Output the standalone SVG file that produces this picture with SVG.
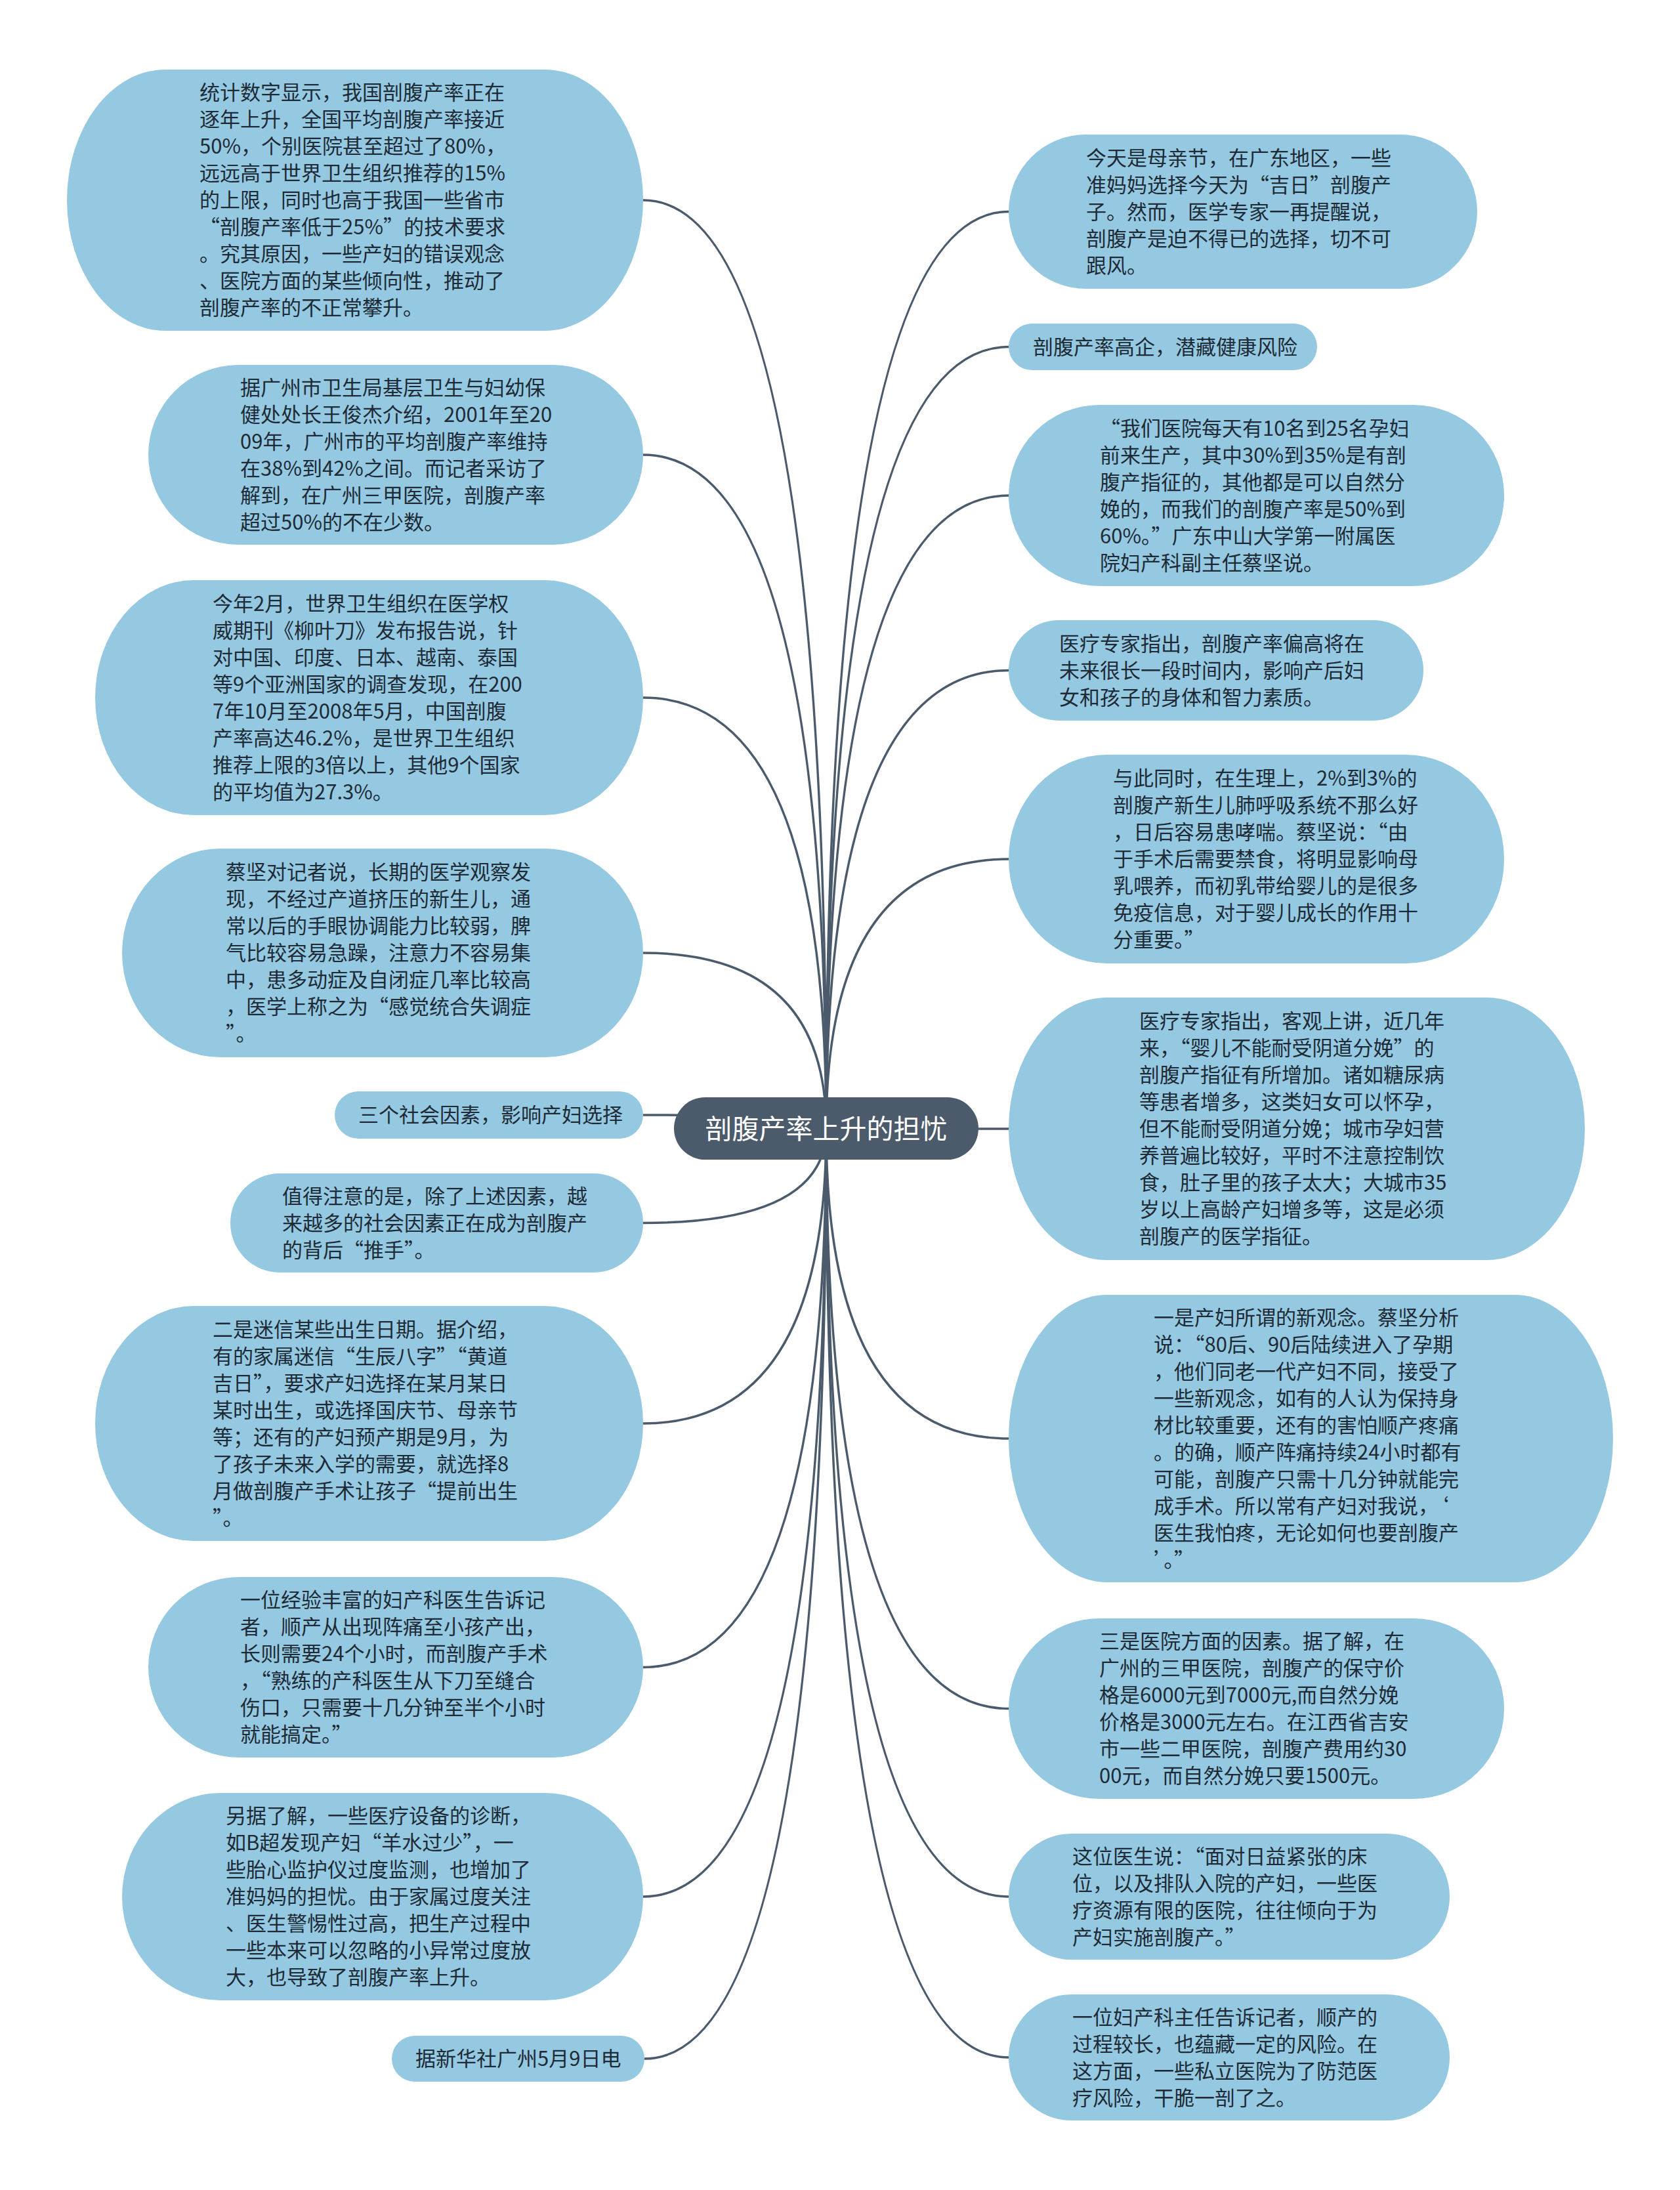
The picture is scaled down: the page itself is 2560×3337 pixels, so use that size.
<svg xmlns="http://www.w3.org/2000/svg" width="2560" height="3337" viewBox="0 0 2560 3337">
<style>
.bg{fill:#ffffff}
.node rect{fill:#94c9e1}
.t{font-family:"Noto Sans CJK SC","Noto Sans",sans-serif;font-size:31px;fill:#1e2a35}
.conn path{fill:none;stroke:#4b5b6b;stroke-width:3.5}
.center rect{fill:#4b5b6b}
.center text{font-family:"Noto Sans CJK SC","Noto Sans",sans-serif;font-size:41px;fill:#ffffff;text-anchor:middle}
</style>
<rect class="bg" x="0" y="0" width="2560" height="3337"/>
<g id="connectors" class="conn">
<path d="M1259 1720 Q1259 305 980 305"/>
<path d="M1259 1720 Q1259 693 980 693"/>
<path d="M1259 1720 Q1259 1063 980 1063"/>
<path d="M1259 1720 Q1259 1452 980 1452"/>
<path d="M1259 1720 Q1259 1699 980 1699"/>
<path d="M1259 1720 Q1259 1863.5 980 1863.5"/>
<path d="M1259 1720 Q1259 2169 980 2169"/>
<path d="M1259 1720 Q1259 2540.5 980 2540.5"/>
<path d="M1259 1720 Q1259 2890 980 2890"/>
<path d="M1259 1720 Q1259 3137 982 3137"/>
<path d="M1259 1720 Q1259 322.5 1537 322.5"/>
<path d="M1259 1720 Q1259 528.5 1537 528.5"/>
<path d="M1259 1720 Q1259 755 1537 755"/>
<path d="M1259 1720 Q1259 1021.5 1537 1021.5"/>
<path d="M1259 1720 Q1259 1309 1537 1309"/>
<path d="M1259 1720 Q1259 1720 1537 1720"/>
<path d="M1259 1720 Q1259 2192 1537 2192"/>
<path d="M1259 1720 Q1259 2603.5 1537 2603.5"/>
<path d="M1259 1720 Q1259 2890 1537 2890"/>
<path d="M1259 1720 Q1259 3135 1537 3135"/>
</g>

<g id="L1" class="node"><rect x="102" y="106" width="878" height="398" rx="150" ry="199"/>
<text class="t" x="304" y="152"><tspan x="304">统计数字显示，我国剖腹产率正在</tspan><tspan x="304" dy="41">逐年上升，全国平均剖腹产率接近</tspan><tspan x="304" dy="41">50%，个别医院甚至超过了80%，</tspan><tspan x="304" dy="41">远远高于世界卫生组织推荐的15%</tspan><tspan x="304" dy="41">的上限，同时也高于我国一些省市</tspan><tspan x="304" dy="41">“剖腹产率低于25%”的技术要求</tspan><tspan x="304" dy="41">。究其原因，一些产妇的错误观念</tspan><tspan x="304" dy="41">、医院方面的某些倾向性，推动了</tspan><tspan x="304" dy="41">剖腹产率的不正常攀升。</tspan></text></g>

<g id="L2" class="node"><rect x="226" y="556" width="754" height="274" rx="137" ry="137"/>
<text class="t" x="366" y="601.5"><tspan x="366">据广州市卫生局基层卫生与妇幼保</tspan><tspan x="366" dy="41">健处处长王俊杰介绍，2001年至20</tspan><tspan x="366" dy="41">09年，广州市的平均剖腹产率维持</tspan><tspan x="366" dy="41">在38%到42%之间。而记者采访了</tspan><tspan x="366" dy="41">解到，在广州三甲医院，剖腹产率</tspan><tspan x="366" dy="41">超过50%的不在少数。</tspan></text></g>

<g id="L3" class="node"><rect x="145" y="884" width="835" height="358" rx="150" ry="179"/>
<text class="t" x="324" y="930.5"><tspan x="324">今年2月，世界卫生组织在医学权</tspan><tspan x="324" dy="41">威期刊《柳叶刀》发布报告说，针</tspan><tspan x="324" dy="41">对中国、印度、日本、越南、泰国</tspan><tspan x="324" dy="41">等9个亚洲国家的调查发现，在200</tspan><tspan x="324" dy="41">7年10月至2008年5月，中国剖腹</tspan><tspan x="324" dy="41">产率高达46.2%，是世界卫生组织</tspan><tspan x="324" dy="41">推荐上限的3倍以上，其他9个国家</tspan><tspan x="324" dy="41">的平均值为27.3%。</tspan></text></g>

<g id="L4" class="node"><rect x="186" y="1293" width="794" height="318" rx="150" ry="159"/>
<text class="t" x="344" y="1340"><tspan x="344">蔡坚对记者说，长期的医学观察发</tspan><tspan x="344" dy="41">现，不经过产道挤压的新生儿，通</tspan><tspan x="344" dy="41">常以后的手眼协调能力比较弱，脾</tspan><tspan x="344" dy="41">气比较容易急躁，注意力不容易集</tspan><tspan x="344" dy="41">中，患多动症及自闭症几率比较高</tspan><tspan x="344" dy="41">，医学上称之为“感觉统合失调症</tspan><tspan x="344" dy="41">”。</tspan></text></g>

<g id="L5" class="node"><rect x="510" y="1663" width="470" height="72" rx="36" ry="36"/>
<text class="t" x="546" y="1710">三个社会因素，影响产妇选择</text></g>

<g id="L6" class="node"><rect x="351" y="1788" width="629" height="151" rx="75.5" ry="75.5"/>
<text class="t" x="430" y="1833.5"><tspan x="430">值得注意的是，除了上述因素，越</tspan><tspan x="430" dy="41">来越多的社会因素正在成为剖腹产</tspan><tspan x="430" dy="41">的背后“推手”。</tspan></text></g>

<g id="L7" class="node"><rect x="145" y="1990" width="835" height="358" rx="150" ry="179"/>
<text class="t" x="324" y="2036.5"><tspan x="324">二是迷信某些出生日期。据介绍，</tspan><tspan x="324" dy="41">有的家属迷信“生辰八字”“黄道</tspan><tspan x="324" dy="41">吉日”，要求产妇选择在某月某日</tspan><tspan x="324" dy="41">某时出生，或选择国庆节、母亲节</tspan><tspan x="324" dy="41">等；还有的产妇预产期是9月，为</tspan><tspan x="324" dy="41">了孩子未来入学的需要，就选择8</tspan><tspan x="324" dy="41">月做剖腹产手术让孩子“提前出生</tspan><tspan x="324" dy="41">”。</tspan></text></g>

<g id="L8" class="node"><rect x="226" y="2403" width="754" height="275" rx="137.5" ry="137.5"/>
<text class="t" x="366" y="2449"><tspan x="366">一位经验丰富的妇产科医生告诉记</tspan><tspan x="366" dy="41">者，顺产从出现阵痛至小孩产出，</tspan><tspan x="366" dy="41">长则需要24个小时，而剖腹产手术</tspan><tspan x="366" dy="41">，“熟练的产科医生从下刀至缝合</tspan><tspan x="366" dy="41">伤口，只需要十几分钟至半个小时</tspan><tspan x="366" dy="41">就能搞定。”</tspan></text></g>

<g id="L9" class="node"><rect x="186" y="2732" width="794" height="316" rx="150" ry="158"/>
<text class="t" x="344" y="2778"><tspan x="344">另据了解，一些医疗设备的诊断，</tspan><tspan x="344" dy="41">如B超发现产妇“羊水过少”，一</tspan><tspan x="344" dy="41">些胎心监护仪过度监测，也增加了</tspan><tspan x="344" dy="41">准妈妈的担忧。由于家属过度关注</tspan><tspan x="344" dy="41">、医生警惕性过高，把生产过程中</tspan><tspan x="344" dy="41">一些本来可以忽略的小异常过度放</tspan><tspan x="344" dy="41">大，也导致了剖腹产率上升。</tspan></text></g>

<g id="L10" class="node"><rect x="597" y="3102" width="385" height="70" rx="35" ry="35"/>
<text class="t" x="633" y="3148">据新华社广州5月9日电</text></g>

<g id="R1" class="node"><rect x="1537" y="205" width="714" height="235" rx="117.5" ry="117.5"/>
<text class="t" x="1655" y="251.5"><tspan x="1655">今天是母亲节，在广东地区，一些</tspan><tspan x="1655" dy="41">准妈妈选择今天为“吉日”剖腹产</tspan><tspan x="1655" dy="41">子。然而，医学专家一再提醒说，</tspan><tspan x="1655" dy="41">剖腹产是迫不得已的选择，切不可</tspan><tspan x="1655" dy="41">跟风。</tspan></text></g>

<g id="R2" class="node"><rect x="1537" y="493" width="470" height="71" rx="35.5" ry="35.5"/>
<text class="t" x="1574" y="539.5">剖腹产率高企，潜藏健康风险</text></g>

<g id="R3" class="node"><rect x="1537" y="617" width="755" height="276" rx="138" ry="138"/>
<text class="t" x="1676" y="663.5"><tspan x="1676">“我们医院每天有10名到25名孕妇</tspan><tspan x="1676" dy="41">前来生产，其中30%到35%是有剖</tspan><tspan x="1676" dy="41">腹产指征的，其他都是可以自然分</tspan><tspan x="1676" dy="41">娩的，而我们的剖腹产率是50%到</tspan><tspan x="1676" dy="41">60%。”广东中山大学第一附属医</tspan><tspan x="1676" dy="41">院妇产科副主任蔡坚说。</tspan></text></g>

<g id="R4" class="node"><rect x="1537" y="945" width="632" height="153" rx="76.5" ry="76.5"/>
<text class="t" x="1614" y="991.5"><tspan x="1614">医疗专家指出，剖腹产率偏高将在</tspan><tspan x="1614" dy="41">未来很长一段时间内，影响产后妇</tspan><tspan x="1614" dy="41">女和孩子的身体和智力素质。</tspan></text></g>

<g id="R5" class="node"><rect x="1537" y="1150" width="755" height="318" rx="150" ry="159"/>
<text class="t" x="1696" y="1197"><tspan x="1696">与此同时，在生理上，2%到3%的</tspan><tspan x="1696" dy="41">剖腹产新生儿肺呼吸系统不那么好</tspan><tspan x="1696" dy="41">，日后容易患哮喘。蔡坚说：“由</tspan><tspan x="1696" dy="41">于手术后需要禁食，将明显影响母</tspan><tspan x="1696" dy="41">乳喂养，而初乳带给婴儿的是很多</tspan><tspan x="1696" dy="41">免疫信息，对于婴儿成长的作用十</tspan><tspan x="1696" dy="41">分重要。”</tspan></text></g>

<g id="R6" class="node"><rect x="1537" y="1520" width="878" height="400" rx="150" ry="200"/>
<text class="t" x="1736" y="1567"><tspan x="1736">医疗专家指出，客观上讲，近几年</tspan><tspan x="1736" dy="41">来，“婴儿不能耐受阴道分娩”的</tspan><tspan x="1736" dy="41">剖腹产指征有所增加。诸如糖尿病</tspan><tspan x="1736" dy="41">等患者增多，这类妇女可以怀孕，</tspan><tspan x="1736" dy="41">但不能耐受阴道分娩；城市孕妇营</tspan><tspan x="1736" dy="41">养普遍比较好，平时不注意控制饮</tspan><tspan x="1736" dy="41">食，肚子里的孩子太大；大城市35</tspan><tspan x="1736" dy="41">岁以上高龄产妇增多等，这是必须</tspan><tspan x="1736" dy="41">剖腹产的医学指征。</tspan></text></g>

<g id="R7" class="node"><rect x="1537" y="1973" width="921" height="438" rx="150" ry="219"/>
<text class="t" x="1758" y="2018.5"><tspan x="1758">一是产妇所谓的新观念。蔡坚分析</tspan><tspan x="1758" dy="41">说：“80后、90后陆续进入了孕期</tspan><tspan x="1758" dy="41">，他们同老一代产妇不同，接受了</tspan><tspan x="1758" dy="41">一些新观念，如有的人认为保持身</tspan><tspan x="1758" dy="41">材比较重要，还有的害怕顺产疼痛</tspan><tspan x="1758" dy="41">。的确，顺产阵痛持续24小时都有</tspan><tspan x="1758" dy="41">可能，剖腹产只需十几分钟就能完</tspan><tspan x="1758" dy="41">成手术。所以常有产妇对我说，‘</tspan><tspan x="1758" dy="41">医生我怕疼，无论如何也要剖腹产</tspan><tspan x="1758" dy="41">’。”</tspan></text></g>

<g id="R8" class="node"><rect x="1537" y="2466" width="755" height="275" rx="137.5" ry="137.5"/>
<text class="t" x="1675" y="2512"><tspan x="1675">三是医院方面的因素。据了解，在</tspan><tspan x="1675" dy="41">广州的三甲医院，剖腹产的保守价</tspan><tspan x="1675" dy="41">格是6000元到7000元,而自然分娩</tspan><tspan x="1675" dy="41">价格是3000元左右。在江西省吉安</tspan><tspan x="1675" dy="41">市一些二甲医院，剖腹产费用约30</tspan><tspan x="1675" dy="41">00元，而自然分娩只要1500元。</tspan></text></g>

<g id="R9" class="node"><rect x="1537" y="2794" width="672" height="192" rx="96" ry="96"/>
<text class="t" x="1634" y="2839.5"><tspan x="1634">这位医生说：“面对日益紧张的床</tspan><tspan x="1634" dy="41">位，以及排队入院的产妇，一些医</tspan><tspan x="1634" dy="41">疗资源有限的医院，往往倾向于为</tspan><tspan x="1634" dy="41">产妇实施剖腹产。”</tspan></text></g>

<g id="R10" class="node"><rect x="1537" y="3039" width="672" height="192" rx="96" ry="96"/>
<text class="t" x="1634" y="3084.5"><tspan x="1634">一位妇产科主任告诉记者，顺产的</tspan><tspan x="1634" dy="41">过程较长，也蕴藏一定的风险。在</tspan><tspan x="1634" dy="41">这方面，一些私立医院为了防范医</tspan><tspan x="1634" dy="41">疗风险，干脆一剖了之。</tspan></text></g>

<g id="center" class="center"><rect x="1027" y="1672" width="464" height="95" rx="47.5" ry="47.5"/>
<text x="1259" y="1735">剖腹产率上升的担忧</text></g>
</svg>
